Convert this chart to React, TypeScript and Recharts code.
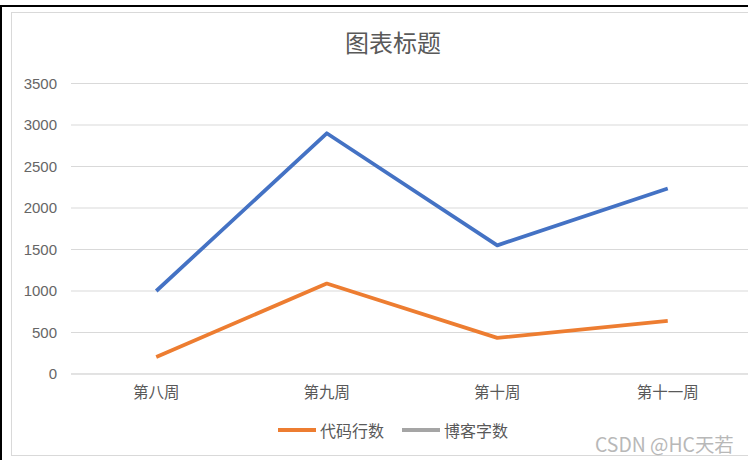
import React from 'react';
import { LineChart, Line, XAxis, YAxis, CartesianGrid } from 'recharts';

const categories = ['第八周', '第九周', '第十周', '第十一周'];
const blueValues = [1000, 2900, 1550, 2235];
const codeLines = [205, 1090, 435, 640];
const yTicks = [0, 500, 1000, 1500, 2000, 2500, 3000, 3500];
const legendItems = [
  { name: '代码行数', color: '#ED7D31' },
  { name: '博客字数', color: '#A5A5A5' },
];
const title = '图表标题';
const watermark = 'CSDN @HC天若';

const data = categories.map((c, i) => ({ week: c, blue: blueValues[i], code: codeLines[i] }));

const FONT = '"Liberation Sans", "Noto Sans CJK SC", sans-serif';
const CJK = '"Noto Sans CJK SC", "Liberation Sans", sans-serif';

export default function App() {
  return (
    <div style={{ position: 'absolute', left: 0, top: 0, width: 748, height: 460, overflow: 'hidden', background: '#fff' }}>
      <div style={{ position: 'absolute', left: 0, top: 5, width: 800, height: 500, borderLeft: '2px solid #000', borderTop: '2px solid #000', boxSizing: 'border-box' }} />
      <div style={{ position: 'absolute', left: 11, top: 12, width: 764, height: 444, border: '1px solid #d9d9d9', boxSizing: 'border-box' }} />
      <div style={{ position: 'absolute', left: 11, top: 12 }}>
        <LineChart width={764} height={443} data={data} margin={{ top: 71.5, right: 22, left: 10, bottom: 51 }}>
          <CartesianGrid vertical={false} stroke="#d9d9d9" strokeWidth={1} />
          <XAxis
            dataKey="week"
            padding={{ left: 85.25, right: 85.25 }}
            axisLine={{ stroke: '#d9d9d9' }}
            tickLine={false}
            tickSize={0}
            tickMargin={13}
            height={30}
            tick={{ fill: '#595959', fontSize: 15.5, fontFamily: CJK }}
          />
          <YAxis
            domain={[0, 3500]}
            ticks={yTicks}
            width={50}
            axisLine={false}
            tickLine={false}
            tickSize={0}
            tickMargin={14}
            tick={{ fill: '#666666', fontSize: 15, fontFamily: FONT }}
          />
          <Line dataKey="blue" name="系列" stroke="#4472C4" strokeWidth={3.75} dot={false} isAnimationActive={false} strokeLinejoin="round" />
          <Line dataKey="code" name="代码行数" stroke="#ED7D31" strokeWidth={3.75} dot={false} isAnimationActive={false} strokeLinejoin="round" />
        </LineChart>
      </div>
      <div style={{ position: 'absolute', left: 11, top: 26, width: 764, textAlign: 'center', fontFamily: CJK, fontSize: 24, color: '#595959', lineHeight: '32px' }}>
        {title}
      </div>
      <div style={{ position: 'absolute', left: 11, top: 419, width: 764, display: 'flex', justifyContent: 'center', alignItems: 'center', fontFamily: CJK, fontSize: 16, color: '#595959', lineHeight: '22px' }}>
        {legendItems.map((it, i) => (
          <div key={it.name} style={{ display: 'flex', alignItems: 'center', marginLeft: i === 0 ? 0 : 18 }}>
            <div style={{ width: 38, height: 4, background: it.color, marginRight: 4 }} />
            <span>{it.name}</span>
          </div>
        ))}
      </div>
      <div style={{ position: 'absolute', left: 595, top: 430, fontFamily: CJK, fontSize: 19.4, color: '#b8b8b8', lineHeight: '28px', whiteSpace: 'nowrap' }}>
        {watermark}
      </div>
    </div>
  );
}
